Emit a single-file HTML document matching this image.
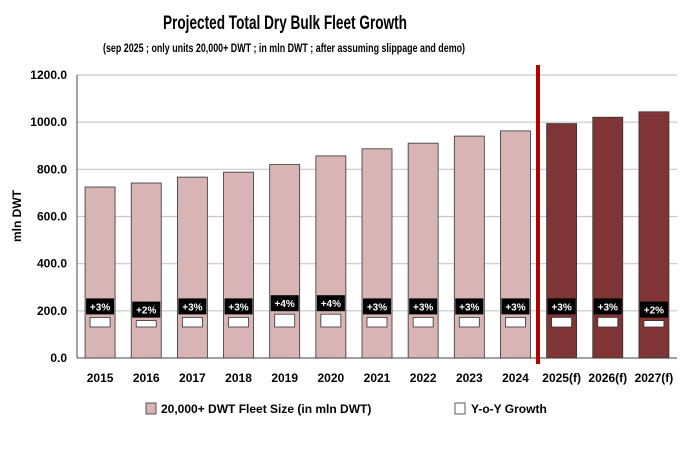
<!DOCTYPE html>
<html><head><meta charset="utf-8"><style>
html,body{margin:0;padding:0;background:#fff;}
svg{display:block;font-family:"Liberation Sans",sans-serif;}
</style></head><body>
<svg id="chart" width="692" height="449" viewBox="0 0 692 449">
<text x="285" y="29" text-anchor="middle" font-size="19" font-weight="bold" textLength="244" lengthAdjust="spacingAndGlyphs">Projected Total Dry Bulk Fleet Growth</text>
<text x="284" y="52" text-anchor="middle" font-size="12" font-weight="bold" textLength="362" lengthAdjust="spacingAndGlyphs">(sep 2025 ; only units 20,000+ DWT ; in mln DWT ; after assuming slippage and demo)</text>
<text transform="translate(21,216) rotate(-90)" text-anchor="middle" font-size="12" font-weight="bold">mln DWT</text>
<g id="grid"></g><g id="bars"></g><g id="xlabels"></g>
<line x1="538" y1="65" x2="538" y2="364" stroke="#b00000" stroke-width="4"/>
<g>
<rect x="146" y="403" width="10" height="11" fill="#d8b4b4" stroke="#333" stroke-width="0.8"/>
<text x="161" y="413" font-size="12" font-weight="bold">20,000+ DWT Fleet Size (in mln DWT)</text>
<rect x="455" y="403" width="10" height="11" fill="#fff" stroke="#333" stroke-width="0.8"/>
<text x="471" y="413" font-size="12" font-weight="bold">Y-o-Y Growth</text>
</g>
</svg>
<script>
const categories=["2015","2016","2017","2018","2019","2020","2021","2022","2023","2024","2025(f)","2026(f)","2027(f)"];
const fleetValues=[725,742,767,788,820,857,887,911,941,963,994,1021,1044];
const growthValues=[3,2,3,3,4,4,3,3,3,3,3,3,2];
const forecastFlags=[0,0,0,0,0,0,0,0,0,0,1,1,1];
const yTicks=[0,200,400,600,800,1000,1200];
const NS="http://www.w3.org/2000/svg";
const left=77,right=677,y0=358,yTop=75,yMax=1200;
const yScale=v=>y0-(v/yMax)*(y0-yTop);
const band=(right-left)/categories.length;
const xCenter=i=>left+band*(i+0.5);
function mk(tag,attrs,parent){const e=document.createElementNS(NS,tag);for(const k in attrs)e.setAttribute(k,attrs[k]);parent.appendChild(e);return e;}
const grid=document.getElementById('grid'),bars=document.getElementById('bars'),xl=document.getElementById('xlabels');
yTicks.forEach(t=>{
 const y=yScale(t);
 const l=mk('line',{x1:left,x2:right,y1:y,y2:y,stroke:t===0?'#444':'#c8c8c8','stroke-width':t===0?1:1.2},grid);
 
 
 const tx=mk('text',{x:left-10,y:y+4,'text-anchor':'end','font-size':12,'font-weight':'bold'},grid);
 tx.textContent=t.toFixed(1);
 
 
});
const ax=mk('line',{x1:left,x2:left,y1:yTop,y2:y0,stroke:'#444'},grid);


categories.forEach((c,i)=>{
 const cx=xCenter(i),w=30,top=yScale(fleetValues[i]);
 const r=mk('rect',{x:cx-w/2,y:top,width:w,height:y0-top,fill:forecastFlags[i]?'#7f3535':'#d8b4b4',stroke:'#333','stroke-width':0.8},bars);
 
 
 const gh=growthValues[i]*3.2,gb=327;
 const g=mk('rect',{x:cx-10,y:gb-gh,width:20,height:gh,fill:'#fff',stroke:'#333','stroke-width':0.8},bars);
 
 
 const lt=gb-gh-19;
 const lb=mk('rect',{x:cx-14,y:lt,width:28,height:16,fill:'#000'},bars);
 
 
 const t=mk('text',{x:cx,y:lt+12,'text-anchor':'middle','font-size':10,'font-weight':'bold',fill:'#fff'},bars);
 t.textContent='+'+growthValues[i]+'%';
 
 
 const x=mk('text',{x:cx,y:382,'text-anchor':'middle','font-size':12,'font-weight':'bold'},xl);
 x.textContent=c;
 
 
});
</script>
</body></html>
